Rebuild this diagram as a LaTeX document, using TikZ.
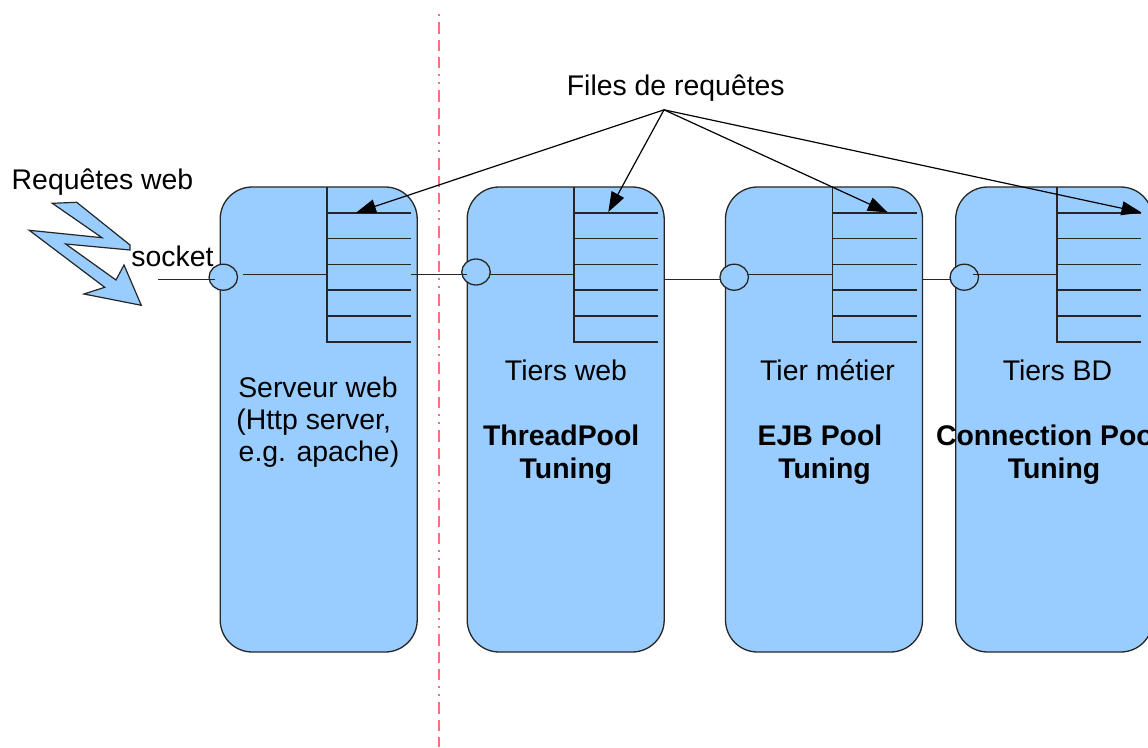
\documentclass[tikz,border=0pt]{standalone}
\usepackage{fontspec}
\setmainfont{Liberation Sans}
\usetikzlibrary{shapes.geometric,arrows.meta}
\definecolor{tierblue}{HTML}{99CCFF}
\definecolor{splitred}{RGB}{255,112,120}
\definecolor{inkline}{HTML}{262626}
\tikzset{
  tierbox/.style={draw=inkline,fill=tierblue,line width=1.3pt,rounded corners=32pt,minimum width=197pt,minimum height=465pt,inner sep=0pt,outer sep=0pt},
  sockethole/.style={ellipse,draw=inkline,fill=tierblue,line width=1.3pt,minimum width=28.5pt,minimum height=26pt,inner sep=0pt,outer sep=0pt},
  wire/.style={draw=inkline,line width=1.3pt},
  pointer/.style={draw=black,line width=1.2pt,-{Triangle[length=20pt,width=14pt]}},
  separator/.style={draw=splitred,line width=1.5pt,dash pattern=on 2pt off 6pt on 11.5pt off 6.5pt on 11pt off 6pt on 11pt off 6pt on 2pt off 6pt},
  label/.style={anchor=base,inner sep=0pt,outer sep=0pt,font=\fontsize{28.4}{34}\selectfont,text=black},
  boldlabel/.style={label,font=\fontsize{28.4}{34}\selectfont\bfseries},
}
\begin{document}
\begin{tikzpicture}[x=1pt,y=-1pt]
\useasboundingbox (0,0) rectangle (1148,747);
\clip (0,0) rectangle (1148,747);
\fill[white] (0,0) rectangle (1148,747);

% separator
\coordinate (sepA) at (439,14);
\coordinate (sepB) at (439,747);
\draw[separator] (sepA) -- (sepB);

% tiers
\node[tierbox] (t1) at (318.7,419.5) {};
\node[tierbox] (t2) at (565.7,419.5) {};
\node[tierbox] (t3) at (824,419.5) {};
\node[tierbox] (t4) at (1054.2,419.5) {};

% queues
\foreach \n/\qx in {1/327,2/574,3/832.5,4/1057}{
  \coordinate (q\n) at (\qx,187);
  \draw[wire] (q\n) -- ++(0,155) -- ++(84,0);
  \foreach \dy in {26,51.5,77.5,103,129}{
    \draw[wire] (q\n) ++(0,\dy) -- ++(84,0);
  }
}

% lightning
\draw[fill=tierblue,draw=inkline,line width=1.2pt,line join=miter]
  (52.3,203.3) -- (76.7,202.3) -- (130,245) -- (130,250) -- (65.7,244) -- (116,280) -- (124,265)
  -- (141.3,305.3) -- (84,294) -- (104.7,287.3) -- (29.3,230.3) -- (102,237.7) -- cycle;

% sockets
\node[sockethole] (s1) at (223.3,277.2) {};
\node[sockethole] (s2) at (476,272) {};
\node[sockethole] (s3) at (734.2,277.2) {};
\node[sockethole] (s4) at (964.3,277.2) {};

% wires
\coordinate (inA) at (158,279.5);
\coordinate (inB) at (215,279.5);
\draw[wire] (inA) -- (inB);
\coordinate (a1) at (243,274.5);
\coordinate (a1q) at (327,274.5);
\draw[wire] (a1) -- (a1q);
\coordinate (b1) at (411,274.5);
\coordinate (b2) at (467,274.5);
\draw[wire] (b1) -- (b2);
\coordinate (a2q) at (574,274.5);
\draw[wire] (s2.east |- a2q) -- (a2q);
\coordinate (c1) at (664,279.5);
\coordinate (c2) at (720,279.5);
\draw[wire] (c1) -- (c2);
\coordinate (a3q) at (832.5,274.5);
\draw[wire] (s3.east |- a3q) -- (a3q);
\coordinate (d1) at (922,279.5);
\coordinate (d2) at (950,279.5);
\draw[wire] (d1) -- (d2);
\coordinate (a4) at (972.7,274.5);
\coordinate (a4q) at (1057,274.5);
\draw[wire] (a4) -- (a4q);

% labels
\node[label] (lreq) at (102.5,189.3) {Requêtes web};
\node[label] (lsock) at (172.5,266.5) {socket};
\node[label] (lfiles) at (675.8,95.3) {Files de requêtes};
\node[label] (l1a) at (318,397.3) {Serveur web};
\node[label] (l1b) at (313.7,429.3) {(Http server,};
\node[label] (l1c) at (319,461.3) {e.g. apache)};
\node[label] (l2a) at (566,380.2) {Tiers web};
\node[boldlabel] (l2b) at (561.2,445.2) {ThreadPool};
\node[boldlabel] (l2c) at (566,478) {Tuning};
\node[label] (l3a) at (827.5,380.2) {Tier métier};
\node[boldlabel] (l3b) at (820,445.2) {EJB Pool};
\node[boldlabel] (l3c) at (824.5,478) {Tuning};
\node[label] (l4a) at (1057.5,380.2) {Tiers BD};
\node[boldlabel,anchor=base west] (l4b) at (936,445.2) {Connection Pool};
\node[boldlabel] (l4c) at (1054,478) {Tuning};

% pointers
\coordinate (apex) at (664,109.8);
\coordinate (p1) at (356,212.7);
\coordinate (p2) at (608.3,212);
\coordinate (p3) at (887.8,212.5);
\coordinate (p4) at (1141.5,212.5);
\foreach \n in {1,2,3,4}{ \draw[pointer] (apex) -- (p\n); }
\end{tikzpicture}
\end{document}
